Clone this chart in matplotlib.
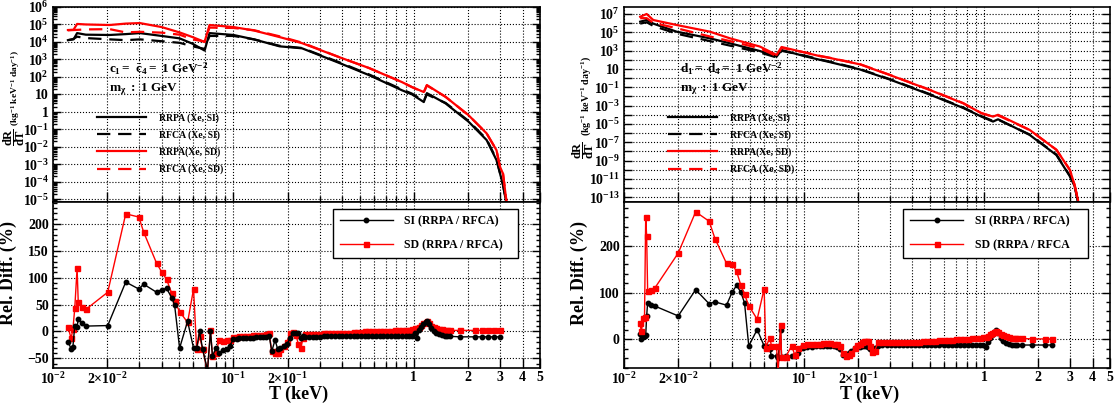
import numpy as np
import matplotlib
matplotlib.use('Agg')
import matplotlib.pyplot as plt
from matplotlib import rcParams
from matplotlib.ticker import FixedLocator, FuncFormatter, MultipleLocator, NullFormatter

rcParams['font.family'] = 'Liberation Serif'
rcParams['font.weight'] = 'bold'
rcParams['axes.labelweight'] = 'bold'
rcParams['mathtext.fontset'] = 'custom'
rcParams['mathtext.rm'] = 'Liberation Serif:bold'
rcParams['mathtext.it'] = 'Liberation Serif:italic:bold'
rcParams['mathtext.bf'] = 'Liberation Serif:bold'
rcParams['axes.linewidth'] = 1.2

# ---------------- left panel (c1 = c4bar), spectra ----------------
T_up_L = [0.0121, 0.0130, 0.0136, 0.0152, 0.0206, 0.0253, 0.0303, 0.0400, 0.0503, 0.0593,
          0.0692, 0.0737, 0.100, 0.130, 0.180, 0.240, 0.385, 0.564, 0.859, 0.975,
          1.135, 1.18, 1.50, 2.01, 2.53, 2.87, 3.00, 3.12, 3.29]
rrpa_si_L = [1.26e4, 1.4e4, 3.2e4, 2.6e4, 2.5e4, 2.8e4, 3.2e4, 2.2e4, 1.6e4, 7.9e3,
             3.2e3, 3.2e4, 2.5e4, 1.4e4, 5.6e3, 4.3e3, 6.3e2, 1.26e2, 17, 10,
             3.6, 11.7, 3.0, 0.27, 2.4e-2, 1.7e-3, 3.0e-4, 6.3e-5, 3.2e-6]
rfca_si_L = [1.26e4, 1.5e4, 2.0e4, 1.66e4, 1.4e4, 1.26e4, 1.4e4, 1.1e4, 8.9e3, 5.6e3,
             4.0e3, 2.2e4, 2.2e4, 1.4e4, 6.0e3, 4.5e3, 6.9e2, 1.38e2, 19, 11,
             4.2, 9.8, 3.2, 0.30, 2.7e-2, 1.9e-3, 3.2e-4, 6.3e-5, 3.2e-6]
rrpa_sd_L = [4.8e4, 5.0e4, 1.07e5, 1.0e5, 9.3e4, 1.12e5, 1.2e5, 7.1e4, 3.5e4, 1.9e4,
             1.0e4, 9.3e4, 7.1e4, 4.5e4, 1.9e4, 8.5e3, 1.35e3, 3.2e2, 50, 26,
             13.5, 34, 7.1, 0.63, 5.8e-2, 6.3e-3, 7.1e-4, 2.8e-4, 3.2e-6]
rfca_sd_L = [4.6e4, 4.8e4, 4.9e4, 5.2e4, 5.4e4, 3.5e4, 3.8e4, 3.4e4, 2.6e4, 1.4e4,
             1.05e4, 6.6e4, 6.3e4, 4.7e4, 2.1e4, 9.1e3, 1.35e3, 3.2e2, 50, 26,
             12.9, 32, 7.1, 0.63, 5.8e-2, 6.3e-3, 7.1e-4, 2.8e-4, 3.2e-6]

# ---------------- left panel, relative differences ----------------
T_lo_L_sparse = [0.0121, 0.0126, 0.0129, 0.0132, 0.0136, 0.0138, 0.0145, 0.0152, 0.0201, 0.0253,
                 0.0299, 0.0318, 0.0375, 0.0400, 0.0426, 0.0455, 0.0472, 0.0503, 0.0557, 0.0601,
                 0.0625, 0.0649, 0.0674, 0.0718, 0.0746, 0.0765, 0.0805, 0.0831, 0.0874, 0.0920,
                 0.0954]
si_L_sparse = [-19, -32, -28, 11, 8, 24, 15, 10, 11, 92,
               79, 88, 73, 78, 80, 63, 49, -31, 19, -31,
               -31, 0, -32, -72, 0, -45, -30, -40, -35, -32,
               -27]
sd_L_sparse = [9, -13, 5, 43, 118, 55, 45, 41, 73, 219,
               213, 185, 127, 111, 97, 71, 56, 37, 17, 79,
               -32, -9, -32, -75, 2, -45, -40, -15, -18, -15,
               -15]
T_lo_L_dense = [0.100, 0.104, 0.108, 0.113, 0.118, 0.123, 0.128, 0.134, 0.140, 0.146,
                0.152, 0.158, 0.163, 0.170, 0.176, 0.181, 0.190, 0.198, 0.206, 0.214,
                0.222, 0.229, 0.236, 0.243, 0.250, 0.262, 0.275, 0.288, 0.302, 0.317,
                0.332, 0.348, 0.365, 0.383, 0.402, 0.421, 0.442, 0.463, 0.486, 0.509,
                0.534, 0.560, 0.587, 0.616, 0.646, 0.677, 0.710, 0.745, 0.781, 0.819,
                0.859, 0.900, 0.944, 0.980, 1.01, 1.04, 1.07, 1.10, 1.13, 1.16,
                1.18, 1.21, 1.25, 1.29, 1.33, 1.38, 1.43, 1.48, 1.53, 1.58,
                1.80, 2.18, 2.38, 2.57, 2.77, 2.99]
si_L_dense = [-14, -14, -13, -13, -12, -12, -12, -11, -11, -10,
              -10, -9, -37, -16, -33, -30, -27, -24, -12, -3,
              -3, -3, -12, -9, -10, -10, -10, -10, -10, -9,
              -9, -9, -9, -9, -9, -9, -9, -9, -9, -8,
              -8, -8, -8, -8, -8, -8, -8, -8, -8, -8,
              -9, -9, -9, -8, -3, -13, 2, 8, 13, 18,
              20, 13, 6, 0, -3, -5, -7, -8, -9, -9,
              -10, -10, -10, -10, -10, -10]
sd_L_dense = [-10, -10, -9, -9, -8, -8, -7, -7, -6, -6,
              -5, -3, -37, -40, -40, -33, -27, -20, -3, -1,
              -6, -24, -30, -13, -4, -4, -4, -4, -4, -3,
              -3, -3, -3, -3, -2, -2, -2, -1, -1, -1,
              0, 0, 0, 0, 1, 1, 1, 1, 2, 2,
              2, 2, 3, 4, 6, 7, 9, 12, 15, 18,
              19, 15, 11, 8, 6, 5, 4, 3, 3, 2,
              2, 2, 2, 2, 2, 2]

# ---------------- right panel (d1 = d4bar), spectra ----------------
T_up_R = [0.0123, 0.01336, 0.01454, 0.0196, 0.0300, 0.0388, 0.0568, 0.0704, 0.0750, 0.1032,
          0.1224, 0.139, 0.204, 0.299, 0.499, 0.764, 0.966, 1.12, 1.195, 1.79,
          2.52, 2.99, 3.18, 3.32]
rrpa_si_R = [1.45e6, 2.2e6, 8.9e5, 1.17e5, 2.2e4, 6.3e3, 9.1e2, 2.2e2, 1.17e3, 2.2e2,
             1.0e2, 56, 8.9, 0.71, 1.6e-2, 5.6e-4, 6.3e-5, 1.8e-5, 3.2e-5, 6.3e-7,
             4.0e-9, 2.0e-11, 1.6e-12, 3.2e-14]
rfca_si_R = [8.9e5, 1.26e6, 5.0e5, 7.1e4, 1.1e4, 3.5e3, 6.3e2, 1.8e2, 9.5e2, 2.6e2,
             1.1e2, 63, 9.8, 0.78, 1.8e-2, 6.2e-4, 7.0e-5, 2.1e-5, 2.9e-5, 7.0e-7,
             4.5e-9, 2.2e-11, 1.8e-12, 3.2e-14]
rrpa_sd_R = [5.0e6, 1.0e7, 2.2e6, 6.3e5, 1.17e5, 2.2e4, 2.8e3, 3.4e2, 2.5e3, 5.6e2,
             2.5e2, 1.6e2, 32, 2.2, 5.1e-2, 1.8e-3, 1.5e-4, 6.3e-5, 1.0e-4, 2.2e-6,
             1.5e-8, 1.0e-10, 2.2e-12, 5.0e-14]
rfca_sd_R = [3.5e6, 3.5e6, 1.1e6, 2.8e5, 3.5e4, 1.1e4, 1.8e3, 2.5e2, 2.0e3, 6.0e2,
             2.7e2, 1.66e2, 34, 2.3, 5.4e-2, 1.9e-3, 1.5e-4, 6.0e-5, 8.5e-5, 2.2e-6,
             1.5e-8, 1.0e-10, 2.2e-12, 5.0e-14]

# ---------------- right panel, relative differences ----------------
T_lo_R_sparse = [0.0122, 0.0125, 0.0128, 0.0130, 0.0132, 0.01336, 0.01353, 0.0142, 0.01486, 0.0200,
                 0.0250, 0.0297, 0.0320, 0.0371, 0.0399, 0.0422, 0.0445, 0.0467, 0.0493, 0.0549,
                 0.0600, 0.0613, 0.0645, 0.0659, 0.0703, 0.0718, 0.0741, 0.0750, 0.0790, 0.0852,
                 0.0889, 0.0927, 0.0984]
si_R_sparse = [12, 0, 5, 7, 9, 50, 78, 74, 71, 50,
               106, 76, 80, 73, 101, 115, 101, 78, -14, 21,
               -14, -14, -20, -36, -35, -40, 20, -38, -36, -36,
               -36, -30, -19]
sd_R_sparse = [35, 18, 46, 48, 262, 220, 103, 106, 110, 184,
               272, 252, 215, 162, 160, 145, 116, 96, 72, 43,
               108, -18, 4, -14, -14, -70, 30, -38, -38, -14,
               -33, -19, -11]
T_lo_R_dense = [0.104, 0.110, 0.116, 0.122, 0.128, 0.134, 0.139, 0.146, 0.152, 0.158,
                0.165, 0.172, 0.178, 0.183, 0.191, 0.197, 0.204, 0.210, 0.215, 0.220,
                0.226, 0.232, 0.237, 0.247, 0.258, 0.272, 0.287, 0.302, 0.318, 0.335,
                0.353, 0.372, 0.392, 0.413, 0.435, 0.458, 0.483, 0.509, 0.536, 0.565,
                0.595, 0.627, 0.660, 0.696, 0.733, 0.772, 0.813, 0.857, 0.903, 0.951,
                0.99, 1.02, 1.05, 1.08, 1.11, 1.14, 1.17, 1.20, 1.24, 1.28,
                1.33, 1.38, 1.43, 1.48, 1.53, 1.62, 1.84, 2.17, 2.37]
si_R_dense = [-16, -16, -15, -15, -15, -14, -14, -15, -16, -20,
              -33, -33, -30, -25, -18, -16, -16, -14, -14, -14,
              -16, -20, -22, -18, -14, -13, -13, -13, -13, -12,
              -12, -12, -12, -11, -11, -11, -11, -11, -11, -11,
              -11, -11, -11, -11, -11, -11, -11, -11, -11, -11,
              -11, -17, -5, 3, 10, 16, 21, 14, 4, -3,
              -8, -10, -11, -12, -12, -12, -12, -12, -12]
sd_R_dense = [-10, -10, -9, -9, -8, -8, -7, -9, -10, -14,
              -30, -36, -33, -30, -19, -13, -9, -5, -3, -3,
              -4, -15, -27, -24, -5, -5, -5, -5, -5, -5,
              -5, -6, -6, -6, -5, -4, -4, -3, -3, -2,
              -2, -1, -1, 0, 0, 1, 1, 2, 2, 3,
              5, 6, 8, 11, 14, 16, 18, 16, 12, 9,
              7, 5, 4, 3, 2, 2, 1, 1, 1]

xt_major = [0.01, 0.02, 0.1, 0.2, 1, 2, 3, 4, 5]
xt_labels = [r'$10^{-2}$', r'$2{\times}10^{-2}$', r'$10^{-1}$', r'$2{\times}10^{-1}$',
             '1', '2', '3', '4', '5']
xt_minor = [0.03, 0.04, 0.05, 0.06, 0.07, 0.08, 0.09, 0.3, 0.4, 0.5, 0.6, 0.7, 0.8, 0.9]

W, H = 1116, 404
fig = plt.figure(figsize=(W / 100, H / 100), dpi=100)


def box(x0, y0, x1, y1):
    return [x0 / W, 1 - y1 / H, (x1 - x0) / W, (y1 - y0) / H]


def dec_label(v, pos, odd_only=False):
    n = int(round(np.log10(v)))
    if odd_only and n % 2 == 0:
        return ''
    if n == 0:
        return '1'
    if n == 1:
        return '10'
    return r'$10^{%d}$' % n


def style_x(ax, labels):
    ax.set_xscale('log')
    ax.set_xlim(0.01, 5.0)
    ax.xaxis.set_major_locator(FixedLocator(xt_major))
    ax.xaxis.set_minor_locator(FixedLocator(xt_minor))
    ax.xaxis.set_minor_formatter(NullFormatter())
    if labels:
        ax.set_xticklabels(xt_labels)
    else:
        ax.xaxis.set_major_formatter(NullFormatter())
    ax.tick_params(axis='x', which='major', direction='in', length=7, width=1, labelsize=10, pad=2)
    ax.tick_params(axis='x', which='minor', direction='in', length=4, width=1)
    ax.tick_params(axis='y', which='both', direction='in', left=True, right=True, width=1)
    ax.tick_params(axis='y', which='major', length=6, labelsize=10, pad=3)
    ax.tick_params(axis='y', which='minor', length=3)
    ax.grid(True, axis='x', which='both', color='black', linestyle=':', linewidth=0.8)
    ax.grid(True, axis='y', which='major', color='black', linestyle=':', linewidth=0.8)
    ax.set_axisbelow(True)


def draw_panel(xl, xr, T_up, rrpa_si, rfca_si, rrpa_sd, rfca_sd, ylim_up, odd_only,
               T_sp, si_sp, sd_sp, T_de, si_de, sd_de, ylim_lo, ymaj, ymin,
               coupling, sd_label, si_on_top, frac_pos, unit_pos, unit_size):
    ax1 = fig.add_axes(box(xl, 7, xr, 202))
    ax2 = fig.add_axes(box(xl, 202, xr, 368))
    wpx = xr - xl

    # spectra
    dash = (0, (6, 3.5))
    l1, = ax1.plot(T_up, rrpa_si, color='black', lw=1.6)
    l2, = ax1.plot(T_up, rfca_si, color='black', lw=1.6, linestyle=dash)
    l3, = ax1.plot(T_up, rrpa_sd, color='red', lw=1.6)
    l4, = ax1.plot(T_up, rfca_sd, color='red', lw=1.6, linestyle=dash)
    ax1.set_yscale('log')
    ax1.set_ylim(*ylim_up)
    style_x(ax1, False)
    lo, hi = int(np.ceil(np.log10(ylim_up[0]))), int(np.floor(np.log10(ylim_up[1])))
    ax1.yaxis.set_major_locator(FixedLocator([10.0 ** k for k in range(lo, hi + 1)]))
    if odd_only:
        ax1.yaxis.set_minor_locator(FixedLocator([]))
    else:
        ax1.yaxis.set_minor_locator(FixedLocator([s * 10.0 ** k for k in range(lo - 1, hi + 1)
                                                  for s in range(2, 10)]))
    ax1.yaxis.set_minor_formatter(NullFormatter())
    ax1.yaxis.set_major_formatter(FuncFormatter(lambda v, p: dec_label(v, p, odd_only)))
    # y title: fraction and units as two rotated texts
    ax1.text(frac_pos[0], frac_pos[1], r'$\dfrac{\mathrm{dR}}{\mathrm{dT}}$', rotation=90,
             transform=ax1.transAxes, fontsize=9, ha='center', va='center')
    ax1.text(unit_pos[0], unit_pos[1], r'(kg$^{-1}$ keV$^{-1}$ day$^{-1}$)', rotation=90,
             transform=ax1.transAxes, fontsize=unit_size, ha='center', va='center')

    ax1.text(0.115, 0.685, coupling, transform=ax1.transAxes, fontsize=9.5, va='center')
    ax1.text(0.115, 0.58, r'$\mathrm{m_{\chi}\ :\ 1\ GeV}$', transform=ax1.transAxes,
             fontsize=9.5, va='center')
    ax1.legend([l1, l2, l3, l4], ['RRPA (Xe, SI)', 'RFCA (Xe, SI)', 'RRPA(Xe, SD)', 'RFCA (Xe, SD)'],
               loc='upper left', bbox_to_anchor=(0.09, 0.456), frameon=False, fontsize=7,
               handlelength=5.1, handletextpad=1.3, labelspacing=0.78,
               borderpad=0, borderaxespad=0)

    # relative differences
    T_all = list(T_sp) + list(T_de)
    si_all = list(si_sp) + list(si_de)
    sd_all = list(sd_sp) + list(sd_de)
    z_si, z_sd = (3, 2) if si_on_top else (2, 3)
    p1, = ax2.plot(T_all, si_all, color='black', lw=1.0, marker='o', markersize=3.2, zorder=z_si)
    p2, = ax2.plot(T_all, sd_all, color='red', lw=1.0, marker='s', markersize=3.6, zorder=z_sd)
    ax2.set_ylim(*ylim_lo)
    style_x(ax2, True)
    ax2.yaxis.set_major_locator(MultipleLocator(ymaj))
    ax2.yaxis.set_minor_locator(MultipleLocator(ymin))
    ax2.set_ylabel('Rel. Diff. (%)', fontsize=13, labelpad=0)
    ax2.yaxis.set_label_coords(-36.0 / wpx, 0.57)
    ax2.set_xlabel('T (keV)', fontsize=13)
    ax2.xaxis.set_label_coords(0.505, -0.105)
    leg = ax2.legend([p1, p2], ['SI (RRPA / RFCA)', sd_label], loc='upper left',
                     bbox_to_anchor=(0.575, 0.669, 0.38, 0.289), mode='expand',
                     fontsize=8.5, handlelength=4.5, handletextpad=1.0, labelspacing=1.0,
                     borderpad=0.55, borderaxespad=0, fancybox=False, framealpha=1,
                     edgecolor='black', numpoints=1)
    leg.get_frame().set_linewidth(1.0)
    return ax1, ax2


draw_panel(53, 540, T_up_L, rrpa_si_L, rfca_si_L, rrpa_sd_L, rfca_sd_L, (6.8e-6, 1.0e6), False,
           T_lo_L_sparse, si_L_sparse, sd_L_sparse, T_lo_L_dense, si_L_dense, sd_L_dense,
           (-68, 241), 50, 10, r'$\mathrm{c_1 =\ \bar{c}_4 =\ 1\ GeV^{-2}}$',
           'SD (RRPA / RFCA)', True, (-0.081, 0.333), (-0.076, 0.585), 6.8)
draw_panel(624, 1110, T_up_R, rrpa_si_R, rfca_si_R, rrpa_sd_R, rfca_sd_R, (3.0e-14, 5.8e7), True,
           T_lo_R_sparse, si_R_sparse, sd_R_sparse, T_lo_R_dense, si_R_dense, sd_R_dense,
           (-61, 293), 100, 20, r'$\mathrm{d_1 =\ \bar{d}_4 =\ 1\ GeV^{-2}}$',
           'SD (RRPA / RFCA', False, (-0.084, 0.265), (-0.079, 0.545), 7.2)

fig.savefig('out.png', dpi=100)
